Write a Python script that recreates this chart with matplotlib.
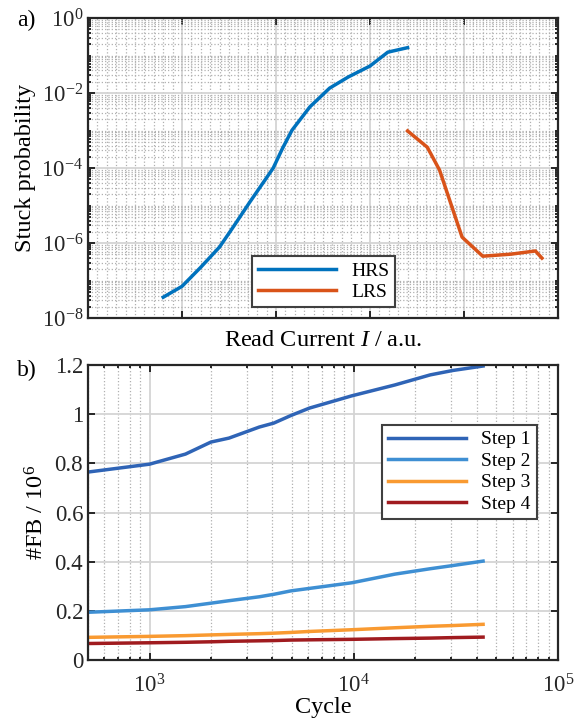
import matplotlib.pyplot as plt
from matplotlib.ticker import LogLocator, MultipleLocator, NullFormatter, FixedLocator, NullLocator

plt.rcParams['font.family'] = ['Liberation Serif', 'DejaVu Serif']
plt.rcParams['mathtext.fontset'] = 'custom'
plt.rcParams['mathtext.rm'] = 'Liberation Serif'
plt.rcParams['mathtext.it'] = 'Liberation Serif:italic'

# panel a) stuck probability vs read current (arbitrary units)
hrs_current = [0.80, 1.00, 1.20, 1.40, 1.55, 1.72, 1.97, 2.07, 2.17, 2.36, 2.57,
               2.77, 3.00, 3.19, 3.40]
hrs_prob = [3.63e-8, 7.08e-8, 2.29e-7, 7.94e-7, 2.82e-6, 1.23e-5, 1.0e-4, 3.39e-4,
            1.02e-3, 4.27e-3, 1.35e-2, 2.69e-2, 5.25e-2, 1.23e-1, 1.62e-1]
lrs_current = [3.40, 3.61, 3.74, 3.98, 4.20, 4.50, 4.76, 4.83]
lrs_prob = [9.8e-4, 3.6e-4, 8.9e-5, 1.45e-6, 4.5e-7, 5.1e-7, 6.2e-7, 4.0e-7]

# panel b) fail bits vs cycle
cycles = [500, 1000, 1500, 2000, 2450, 3450, 4060, 4930, 6070, 9800, 15900, 23700, 30600, 43000]
step1 = [0.765, 0.797, 0.838, 0.887, 0.903, 0.948, 0.964, 0.995, 1.025, 1.075,
         1.119, 1.160, 1.178, 1.196]
step2 = [0.195, 0.205, 0.218, 0.232, 0.242, 0.258, 0.268, 0.282, 0.292, 0.315,
         0.350, 0.372, 0.385, 0.403]
step3 = [0.093, 0.097, 0.100, 0.103, 0.105, 0.108, 0.110, 0.113, 0.117, 0.124,
         0.132, 0.138, 0.141, 0.146]
step4 = [0.068, 0.071, 0.073, 0.075, 0.077, 0.079, 0.080, 0.082, 0.083, 0.085,
         0.088, 0.090, 0.092, 0.094]

fig = plt.figure(figsize=(5.83, 7.2), dpi=100)
ax1 = fig.add_axes([0.151, 0.558, 0.806, 0.417])
ax2 = fig.add_axes([0.151, 0.083, 0.806, 0.410])


def style_axes(ax):
    ax.grid(True, which='major', color='#d4d4d4', linestyle='-', linewidth=1.3)
    ax.grid(True, which='minor', color='#b0b0b0', linestyle=':', linewidth=0.9)
    ax.set_axisbelow(True)
    for s in ax.spines.values():
        s.set_linewidth(1.6)
        s.set_color('#262626')
    ax.tick_params(which='both', direction='in', top=True, right=True,
                   labelsize=16.5, width=1.4, colors='#262626', labelcolor='#262626')
    ax.tick_params(which='major', length=5)
    ax.tick_params(which='minor', length=2.5)


leg_kw = dict(fontsize=14, fancybox=False, edgecolor='#404040', framealpha=1,
              handlelength=4.0, borderpad=0.3, labelspacing=0.2, borderaxespad=0)

ax1.plot(hrs_current, hrs_prob, color='#0072BD', lw=2.5, label='HRS')
ax1.plot(lrs_current, lrs_prob, color='#D95319', lw=2.5, label='LRS')
ax1.set_yscale('log')
ax1.set_xlim(0, 5)
ax1.set_ylim(1e-8, 1)
ax1.xaxis.set_major_locator(FixedLocator([1, 2, 3, 4]))
ax1.xaxis.set_minor_locator(MultipleLocator(0.1))
ax1.xaxis.set_major_formatter(NullFormatter())
ax1.yaxis.set_major_locator(FixedLocator([1e-8, 1e-6, 1e-4, 1e-2, 1]))
ax1.yaxis.set_minor_locator(LogLocator(base=10, subs=range(1, 10), numticks=20))
ax1.yaxis.set_minor_formatter(NullFormatter())
style_axes(ax1)
ax1.tick_params(axis='x', which='minor', length=0)
ax1.set_ylabel('Stuck probability', fontsize=17.5)
ax1.set_xlabel('Read Current $I$ / a.u.', fontsize=17.5, labelpad=5)
leg1 = ax1.legend(loc='lower left', bbox_to_anchor=(0.349, 0.037), **leg_kw)
leg1.get_frame().set_linewidth(1.5)

ax2.plot(cycles, step1, color='#2f64b6', lw=2.5, label='Step 1')
ax2.plot(cycles, step2, color='#3e8fd3', lw=2.5, label='Step 2')
ax2.plot(cycles, step3, color='#f99a31', lw=2.5, label='Step 3')
ax2.plot(cycles, step4, color='#a01b1f', lw=2.5, label='Step 4')
ax2.set_xscale('log')
ax2.set_xlim(500, 1e5)
ax2.set_ylim(0, 1.2)
ax2.set_yticks([0, 0.2, 0.4, 0.6, 0.8, 1.0, 1.2])
ax2.set_yticklabels(['0', '0.2', '0.4', '0.6', '0.8', '1', '1.2'])
ax2.yaxis.set_minor_locator(NullLocator())
ax2.xaxis.set_minor_locator(LogLocator(base=10, subs=range(2, 10), numticks=20))
ax2.xaxis.set_minor_formatter(NullFormatter())
style_axes(ax2)
ax2.tick_params(axis='x', which='major', pad=10)
ax2.set_ylabel('#FB / 10$^6$', fontsize=17.5)
ax2.set_xlabel('Cycle', fontsize=17.5, labelpad=0)
leg2 = ax2.legend(loc='upper right', bbox_to_anchor=(0.955, 0.797), **leg_kw)
leg2.get_frame().set_linewidth(1.5)

fig.text(0.029, 0.972, 'a)', fontsize=17, va='center')
fig.text(0.029, 0.486, 'b)', fontsize=17, va='center')

fig.savefig('out.png', dpi=100)
